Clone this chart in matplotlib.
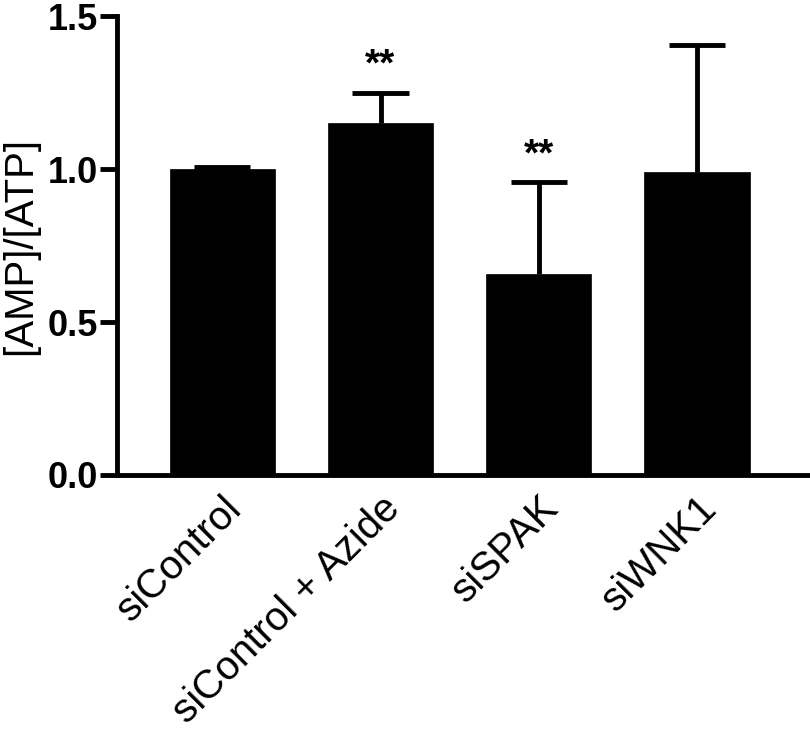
import numpy as np
import matplotlib.pyplot as plt

plt.rcParams['font.family'] = ['Liberation Sans', 'DejaVu Sans']

# Data
groups = ['siControl', 'siControl + Azide', 'siSPAK', 'siWNK1']
means = [1.00, 1.15, 0.657, 0.99]
errs = [0.006, 0.10, 0.30, 0.415]
stars = ['', '**', '**', '']

fig = plt.figure(figsize=(8.1, 7.33), dpi=100)
ax = fig.add_axes([0.1444, 0.352, 0.853, 0.626])

x = np.arange(len(groups))
ax.bar(x, means, width=0.665, color='black', edgecolor='black', linewidth=0.5)

# upper-only error bars (SD)
tops = np.array(means) + np.array(errs)
ax.vlines(x, means, tops, color='black', linewidth=3.5)
ax.hlines(tops, x - 0.177, x + 0.177, color='black', linewidth=3.5)

for xi, t, s in zip(x, tops, stars):
    if s:
        ax.text(xi, t + 0.03, s, ha='center', va='bottom',
                fontsize=28, fontweight='bold')

ax.set_xlim(-0.665, 3.70)
ax.set_ylim(0, 1.5)
ax.set_yticks([0.0, 0.5, 1.0, 1.5])
ax.set_yticklabels(['0.0', '0.5', '1.0', '1.5'], fontsize=26, fontweight='bold')
ax.set_xticks(x)
ax.set_xticklabels(groups, rotation=45, ha='right', rotation_mode='anchor',
                   fontsize=29)
ax.tick_params(axis='y', length=12, width=3.5, pad=2)
ax.tick_params(axis='x', length=0, pad=10)
ax.set_ylabel('[AMP]/[ATP]', fontsize=29, labelpad=6)

for side in ['top', 'right']:
    ax.spines[side].set_visible(False)
for side in ['left', 'bottom']:
    ax.spines[side].set_linewidth(3.5)

fig.savefig('out.png', dpi=100)
